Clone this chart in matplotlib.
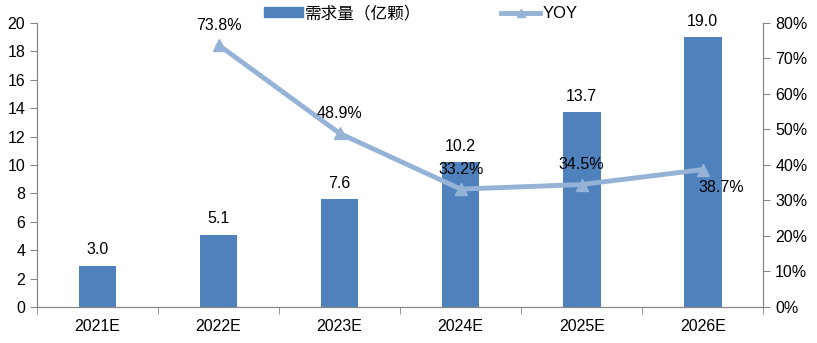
import numpy as np
import matplotlib.pyplot as plt
from matplotlib.lines import Line2D
from matplotlib.patches import Patch

plt.rcParams['font.family'] = ['Liberation Sans', 'Noto Sans CJK SC', 'DejaVu Sans']

years = ['2021E', '2022E', '2023E', '2024E', '2025E', '2026E']
demand = [2.9, 5.1, 7.6, 10.2, 13.7, 19.0]
demand_labels = ['3.0', '5.1', '7.6', '10.2', '13.7', '19.0']
yoy_years = ['2022E', '2023E', '2024E', '2025E', '2026E']
yoy = [73.8, 48.9, 33.2, 34.5, 38.7]

bar_color = '#4F81BD'
line_color = '#95B3D7'
axis_color = '#868686'

fig = plt.figure(figsize=(8.17, 3.43), dpi=100)
ax = fig.add_axes([0.0453, 0.105, 0.889, 0.828])
x = np.arange(len(years))
ax.bar(x, demand, width=0.31, color=bar_color, zorder=2)
for xi, v, lab in zip(x, demand, demand_labels):
    ax.text(xi, v + 0.6, lab, ha='center', va='bottom', fontsize=11.5)

ax.set_xlim(-0.5, len(years) - 0.5)
ax.set_ylim(0, 20)
ax.set_yticks(range(0, 21, 2))
ax.set_xticks(x)
ax.set_xticklabels(years)
ax.set_xticks(np.arange(-0.5, len(years), 1), minor=True)
ax.tick_params(axis='x', which='major', length=0, labelsize=11.5, pad=9)
ax.tick_params(axis='x', which='minor', length=5, direction='out', color=axis_color)
ax.tick_params(axis='y', length=5, direction='out', color=axis_color, labelsize=11.5)
ax.spines['top'].set_visible(False)
for s in ['left', 'bottom', 'right']:
    ax.spines[s].set_color(axis_color)

ax2 = ax.twinx()
yx = [years.index(y) for y in yoy_years]
ax2.plot(yx, yoy, color=line_color, lw=3.5, marker='^', ms=8, zorder=3)
ax2.set_ylim(0, 80)
ax2.set_yticks(range(0, 81, 10))
ax2.set_yticklabels([f'{v}%' for v in range(0, 81, 10)])
ax2.tick_params(axis='y', length=5, direction='out', color=axis_color, labelsize=11.5)
ax2.spines['top'].set_visible(False)
for s in ['left', 'bottom', 'right']:
    ax2.spines[s].set_color(axis_color)

for i, (xi, v) in enumerate(zip(yx, yoy)):
    if i == len(yoy) - 1:
        ax2.text(xi + 0.15, v - 3, f'{v}%', ha='center', va='top', fontsize=11.5)
    else:
        ax2.text(xi, v + 3.5, f'{v}%', ha='center', va='bottom', fontsize=11.5)

handles = [Patch(color=bar_color),
           Line2D([0], [0], color=line_color, lw=3.5, marker='^', ms=6)]
fig.legend(handles, ['需求量（亿颗）', 'YOY'], loc='center', bbox_to_anchor=(0.515, 0.962),
           ncol=2, frameon=False, fontsize=12, handlelength=2.3, handleheight=0.5,
           columnspacing=4.8, handletextpad=0.15)

fig.savefig('out.png', dpi=100)
